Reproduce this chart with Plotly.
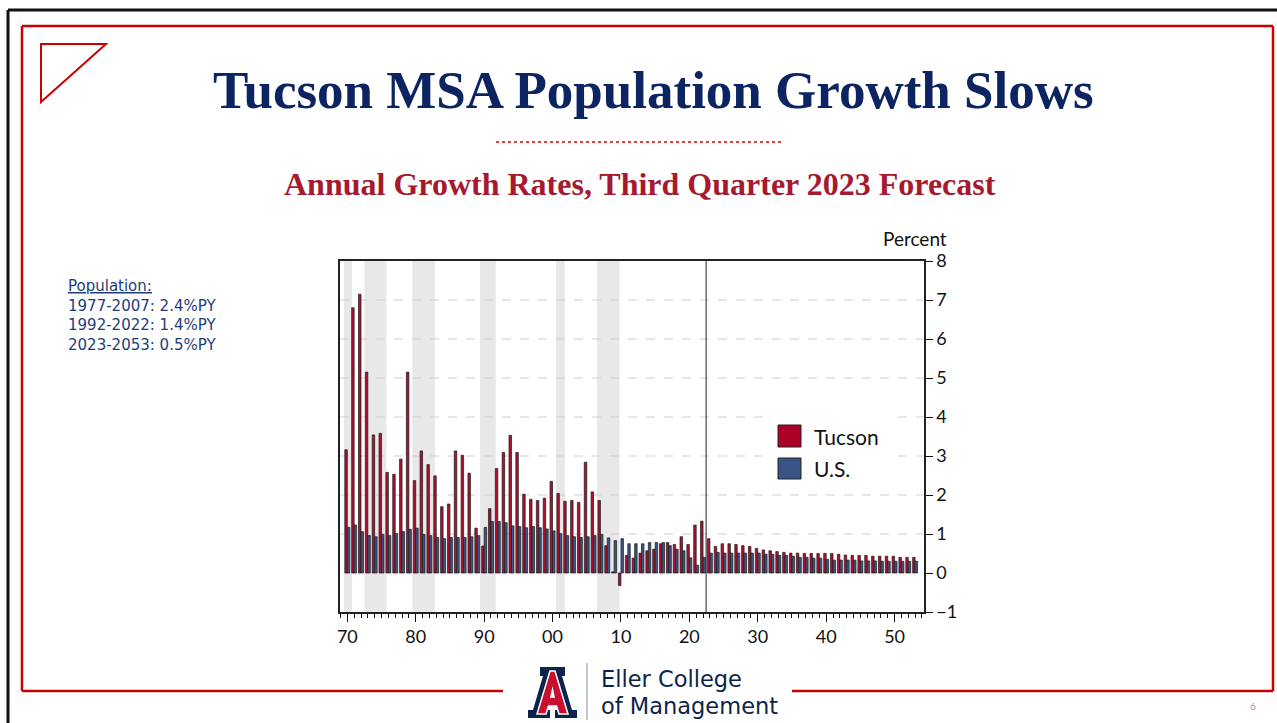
import plotly.graph_objects as go

years = list(range(1970, 2054))
tucson = [3.16, 6.80, 7.15, 5.15, 3.54, 3.58, 2.58, 2.53, 2.92, 5.15,
          2.37, 3.13, 2.78, 2.49, 1.70, 1.77, 3.13, 3.02, 2.56, 1.15,
          0.69, 1.65, 2.68, 3.09, 3.53, 3.09, 2.02, 1.89, 1.86, 1.92,
          2.35, 2.04, 1.84, 1.86, 1.81, 2.84, 2.08, 1.86, 0.70, 0.03,
          -0.32, 0.45, 0.38, 0.51, 0.57, 0.61, 0.75, 0.78, 0.73, 0.93,
          0.73, 1.23, 1.33, 0.88, 0.68, 0.75, 0.75, 0.73, 0.70, 0.68,
          0.63, 0.59, 0.57, 0.55, 0.53, 0.51, 0.51, 0.50, 0.50, 0.50,
          0.50, 0.50, 0.48, 0.46, 0.45, 0.45, 0.45, 0.43, 0.43, 0.43,
          0.43, 0.40, 0.40, 0.40]
us = [1.17, 1.23, 1.06, 0.96, 0.93, 0.99, 0.96, 1.01, 1.06, 1.12,
      1.15, 0.99, 0.96, 0.91, 0.88, 0.91, 0.91, 0.91, 0.93, 0.96,
      1.17, 1.32, 1.32, 1.29, 1.21, 1.19, 1.16, 1.19, 1.16, 1.13,
      1.08, 1.01, 0.96, 0.93, 0.91, 0.93, 0.96, 0.99, 0.90, 0.83,
      0.88, 0.75, 0.75, 0.75, 0.78, 0.78, 0.78, 0.70, 0.61, 0.57,
      0.39, 0.20, 0.40, 0.51, 0.53, 0.51, 0.51, 0.51, 0.51, 0.51,
      0.51, 0.48, 0.48, 0.45, 0.45, 0.43, 0.40, 0.40, 0.38, 0.38,
      0.35, 0.33, 0.33, 0.33, 0.33, 0.31, 0.31, 0.31, 0.30, 0.30,
      0.30, 0.30, 0.30, 0.30]
recessions = [(1969.52, 1970.7), (1972.5, 1975.7), (1979.5, 1982.8),
              (1989.4, 1991.7), (2000.5, 2001.8), (2006.5, 2009.8)]
forecast_start = 2022.45
major_ticks = [1970, 1980, 1990, 2000, 2010, 2020, 2030, 2040, 2050]
major_labels = ["70", "80", "90", "00", "10", "20", "30", "40", "50"]
y_ticks = [-1, 0, 1, 2, 3, 4, 5, 6, 7, 8]
grid_levels = [1, 2, 3, 4, 5, 6, 7]
series_names = ["Tucson", "U.S."]
notes = ["1977-2007: 2.4%PY", "1992-2022: 1.4%PY", "2023-2053: 0.5%PY"]

RED = "#B0102C"
BLUE = "#3A5587"
NAVY = "#0C2461"
FRAME_RED = "#CC0000"

W, H = 1277, 723
L, R, T, B = 340, 924, 261, 612


def PX(x):
    return (x - L) / (R - L)


def PY(y):
    return (B - y) / (B - T)


fig = go.Figure()
fig.add_trace(go.Bar(x=years, y=tucson, name=series_names[0], marker_color=RED,
                     marker_line=dict(color="#1a1a1a", width=0.7), showlegend=False))
fig.add_trace(go.Bar(x=years, y=us, name=series_names[1], marker_color=BLUE,
                     marker_line=dict(color="#1a1a1a", width=0.7), showlegend=False))

shapes = []
for a, b in recessions:
    shapes.append(dict(type="rect", xref="x", yref="paper", x0=a, x1=b, y0=0, y1=1,
                       fillcolor="#E8E8E8", line_width=0, layer="below"))
for g in grid_levels:
    shapes.append(dict(type="line", xref="paper", yref="y", x0=0, x1=1, y0=g, y1=g,
                       line=dict(color="#CFCFCF", width=1, dash="dash"), layer="below"))
# legend box
shapes.append(dict(type="rect", xref="paper", yref="paper", x0=PX(765), x1=PX(890),
                   y0=PY(490), y1=PY(402), fillcolor="white", line_width=0, layer="below"))
shapes.append(dict(type="rect", xref="paper", yref="paper", x0=PX(778), x1=PX(801),
                   y0=PY(447), y1=PY(425), fillcolor="#AC0026", line=dict(color="#222", width=1)))
shapes.append(dict(type="rect", xref="paper", yref="paper", x0=PX(778), x1=PX(801),
                   y0=PY(479), y1=PY(458), fillcolor="#3A5585", line=dict(color="#222", width=1)))
# forecast line
shapes.append(dict(type="line", xref="x", yref="paper", x0=forecast_start, x1=forecast_start,
                   y0=0, y1=1, line=dict(color="#222", width=1)))


def seg(x0, y0, x1, y1, color, width, dash="solid"):
    shapes.append(dict(type="line", xref="paper", yref="paper", x0=PX(x0), y0=PY(y0),
                       x1=PX(x1), y1=PY(y1), line=dict(color=color, width=width, dash=dash)))


# slide frame
seg(8, 10, 1277, 10, "#111", 3)
seg(8, 10, 8, 723, "#111", 3)
seg(22, 26, 1273, 26, FRAME_RED, 2.5)
seg(22, 26, 22, 691, FRAME_RED, 2.5)
seg(1273, 26, 1273, 691, FRAME_RED, 2.5)
seg(22, 691, 503, 691, FRAME_RED, 2.5)
seg(792, 691, 1273, 691, FRAME_RED, 2.5)
seg(496, 142, 782, 142, FRAME_RED, 1.5, "dot")
seg(587, 663, 587, 720, "#8090A8", 1)


def path(pts, fill, line_color=None, lw=0):
    d = "M" + " L".join(f"{PX(x):.5f},{PY(y):.5f}" for x, y in pts) + " Z"
    shapes.append(dict(type="path", xref="paper", yref="paper", path=d, fillcolor=fill,
                       line=dict(color=line_color or fill, width=lw)))


# corner triangle
d = f"M{PX(41):.5f},{PY(44):.5f} L{PX(106):.5f},{PY(44):.5f} L{PX(41):.5f},{PY(102):.5f} Z"
shapes.append(dict(type="path", xref="paper", yref="paper", path=d,
                   line=dict(color=FRAME_RED, width=2)))

# block A logo
outer = [(540, 667), (565, 667), (565, 676), (562, 676), (572, 710), (577, 710), (577, 718),
         (555, 718), (555, 710), (558, 710), (556, 704), (549, 704), (547, 710), (550, 710),
         (550, 718), (528, 718), (528, 710), (533, 710), (543, 676), (540, 676)]
path(outer, "#0C234B")
inner = [(550, 671), (555, 671), (568, 714), (559, 714), (556.5, 706), (548.5, 706),
         (546, 714), (537, 714)]
path(inner, "#C8102E", "white", 1.5)
path([(552.5, 686), (555, 698), (550, 698)], "white")

annotations = [
    dict(text="<b>Tucson MSA Population Growth Slows</b>", x=PX(653), y=PY(90),
         font=dict(family="Liberation Serif", size=53, color=NAVY)),
    dict(text="<b>Annual Growth Rates, Third Quarter 2023 Forecast</b>", x=PX(640), y=PY(184),
         font=dict(family="Liberation Serif", size=32, color="#A6192E")),
    dict(text="<u>Population:</u><br>" + "<br>".join(notes), x=PX(66), y=PY(275),
         xanchor="left", yanchor="top", align="left",
         font=dict(family="DejaVu Sans", size=15, color="#1F3D7A")),
    dict(text="Percent", x=PX(915), y=PY(238),
         font=dict(family="Lato", size=19, color="#111")),
    dict(text=series_names[0], x=PX(812), y=PY(436), xanchor="left",
         font=dict(family="Lato", size=21, color="#111")),
    dict(text=series_names[1], x=PX(812), y=PY(468), xanchor="left",
         font=dict(family="Lato", size=21, color="#111")),
    dict(text="Eller College", x=PX(599), y=PY(678.5), xanchor="left",
         font=dict(family="DejaVu Sans", size=22.5, color="#0C234B")),
    dict(text="of Management", x=PX(599), y=PY(706), xanchor="left",
         font=dict(family="DejaVu Sans", size=22.5, color="#0C234B")),
    dict(text="6", x=PX(1253), y=PY(706), font=dict(family="Lato", size=10, color="#999")),
]
for a in annotations:
    a.setdefault("xref", "paper")
    a.setdefault("yref", "paper")
    a.setdefault("showarrow", False)
    a.setdefault("xanchor", "center")
    a.setdefault("yanchor", "middle")

fig.update_layout(
    width=W, height=H,
    margin=dict(l=L, r=W - R, t=T, b=H - B, pad=0),
    paper_bgcolor="white", plot_bgcolor="white",
    barmode="group", bargap=0.27, bargroupgap=0,
    shapes=shapes, annotations=annotations,
    font=dict(family="Lato", size=18, color="#111"),
)
fig.update_xaxes(range=[1968.93, 2054.3], tickvals=major_ticks, ticktext=major_labels,
                 ticks="outside", ticklen=8, tickcolor="#111", showgrid=False, zeroline=False,
                 showline=True, mirror=True, linecolor="#222", linewidth=1.5,
                 tickfont=dict(family="Lato", size=18, color="#111"),
                 minor=dict(dtick=1, tick0=1970, ticks="outside", ticklen=4,
                            tickcolor="#111", showgrid=False))
fig.update_yaxes(range=[-1, 8], tickvals=y_ticks, side="right", ticks="outside", ticklen=7,
                 tickcolor="#111", showgrid=False, zeroline=False, showline=True, mirror=True,
                 linecolor="#222", linewidth=1.5,
                 tickfont=dict(family="Lato", size=18, color="#111"))

fig.write_html("out.html", config={"displayModeBar": False},
               post_script="document.body.style.margin='0';")
